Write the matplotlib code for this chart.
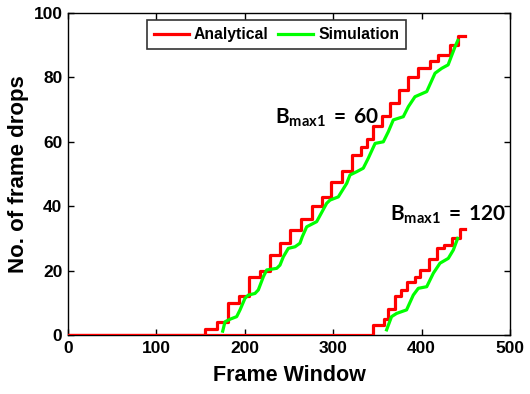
import matplotlib
matplotlib.use("Agg")
import matplotlib.pyplot as plt

plt.rcParams['font.family'] = ['Liberation Sans', 'DejaVu Sans']
plt.rcParams['font.weight'] = 'bold'
plt.rcParams['mathtext.fontset'] = 'custom'
plt.rcParams['mathtext.rm'] = 'Lato'
plt.rcParams['mathtext.bf'] = 'Lato:bold'

# analytical drops, B_max1 = 60 (step corners: frame, level after the step)
ana60_x = [0, 155, 169, 181, 193, 205, 217, 228, 240, 251, 264, 276, 287, 298,
           310, 321, 332, 338, 345, 355, 364, 374, 385, 396, 409, 419, 432, 441, 449]
ana60_y = [0, 2, 4, 10, 12, 18, 20, 25, 28.5, 32.5, 36, 40, 43, 47.5,
           51, 56, 58.5, 61, 65, 68, 72, 76, 80, 83, 85, 87, 90, 93, 93]

# simulated drops, B_max1 = 60
sim60_x = [175, 177.6, 183.3, 190.8, 194.6, 200.2, 204, 211.5, 215.3, 221, 224.8,
           236.1, 239.8, 243.6, 249.2, 256.8, 262.4, 265, 270, 281.3, 292.6, 296.4,
           305.8, 315.3, 319, 326.5, 334, 339.7, 347.4, 356.7, 362.3, 368, 379.3,
           385, 392.5, 405.8, 415.2, 422.7, 430, 437.8, 441]
sim60_y = [1.2, 4.1, 4.9, 5.7, 7.8, 11.4, 12.4, 12.9, 14.0, 18.1, 20.2,
           20.7, 21.7, 24.3, 26.9, 27.4, 28.5, 30.5, 33.6, 35.2, 40.9, 41.9,
           42.9, 47.1, 49.7, 50.7, 51.8, 54.9, 59.5, 60, 63.1, 66.8, 67.8,
           70.9, 74, 75.6, 81.3, 82.8, 83.9, 89.5, 91.5]

# analytical drops, B_max1 = 120
ana120_x = [0, 345, 357, 362, 370, 377, 383, 392, 398, 408, 417, 425, 434, 443, 449]
ana120_y = [0, 3, 5, 8, 12, 14, 16.6, 18, 20.2, 23.5, 27, 28, 30, 33, 33]

# simulated drops, B_max1 = 120
sim120_x = [360.4, 366, 371.7, 383, 390.6, 396.3, 405.8, 413.3, 420.8, 430.2,
            435.9, 440.8]
sim120_y = [1.6, 5.7, 6.7, 7.8, 12.4, 14.5, 15, 19.2, 22.3, 23.8, 26.4, 30]

fig = plt.figure(figsize=(5.3, 3.94), dpi=100)
ax = fig.add_axes([68/530, 59/394, 442/530, 322/394])

red = '#ff0000'
green = '#00ff00'
lw = 2.3
ax.step(ana60_x, ana60_y, where='post', color=red, lw=lw, label='Analytical', zorder=3)
ax.step(ana120_x, ana120_y, where='post', color=red, lw=lw, zorder=3)
ax.plot(sim60_x, sim60_y, color=green, lw=lw, label='Simulation', zorder=4)
ax.plot(sim120_x, sim120_y, color=green, lw=lw, zorder=4)

ax.set_xlim(0, 500)
ax.set_ylim(0, 100)
ax.set_xticks(range(0, 501, 100))
ax.set_yticks(range(0, 101, 20))
ax.tick_params(direction='in', length=4, width=1, labelsize=12.5, top=True, right=True,
               pad=4)
for lab in ax.get_xticklabels() + ax.get_yticklabels():
    lab.set_fontweight('bold')
for sp in ax.spines.values():
    sp.set_linewidth(1)

ax.set_xlabel('Frame Window', fontsize=15.5, fontweight='bold', labelpad=7)
ax.set_ylabel('No. of frame drops', fontsize=16, fontweight='bold', labelpad=3)

ax.text(234, 65.5, r'$\mathbf{B_{max1}\,=\,60}$', fontsize=15)
ax.text(364, 35.5, r'$\mathbf{B_{max1}\,=\,120}$', fontsize=15)

leg = ax.legend(loc='upper center', bbox_to_anchor=(0.472, 0.978), ncol=2,
                prop={'weight': 'bold', 'size': 11.3}, frameon=True, fancybox=False,
                edgecolor='black', handlelength=2.2, handletextpad=0.35,
                columnspacing=0.6, borderpad=0.45, borderaxespad=0)
leg.get_frame().set_linewidth(1.2)

fig.savefig('out.png', dpi=100)
